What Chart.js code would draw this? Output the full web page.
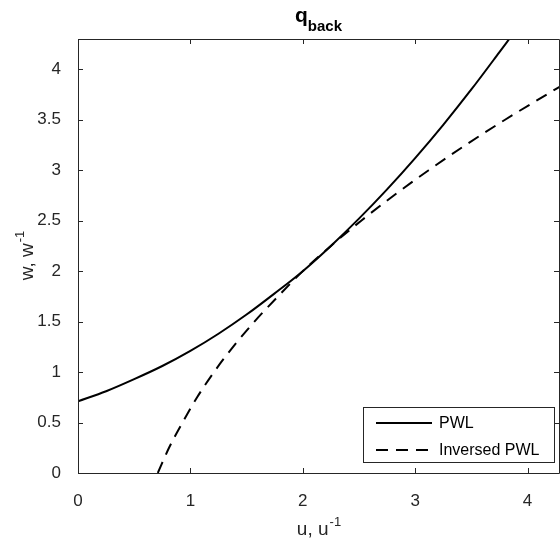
<!DOCTYPE html>
<html>
<head>
<meta charset="utf-8">
<script src="https://cdn.jsdelivr.net/npm/chart.js@4"></script>
<style>
  body { margin: 0; background: #fff; }
  canvas { display: block; }
</style>
</head>
<body>
<canvas id="chart" width="560" height="544"></canvas>
<script>
// nilai
const pwlU = [0, 0.25, 0.5, 0.75, 1, 1.25, 1.5, 1.75, 2, 2.25, 2.5, 2.75, 3, 3.25, 3.5, 3.75, 3.85];
const pwlW = [0.71, 0.81, 0.93, 1.06, 1.21, 1.38, 1.57, 1.78, 2.0, 2.25, 2.52, 2.81, 3.12, 3.45, 3.80, 4.17, 4.32];

const invU = [0.71, 0.81, 0.93, 1.06, 1.21, 1.38, 1.57, 1.78, 2.0, 2.25, 2.52, 2.81, 3.12, 3.45, 3.80, 4.17, 4.32];
const invW = [0, 0.25, 0.5, 0.75, 1, 1.25, 1.5, 1.75, 2, 2.25, 2.5, 2.75, 3, 3.25, 3.5, 3.75, 3.85];

const xTicks = [0, 1, 2, 3, 4];
const yTicks = [0, 0.5, 1, 1.5, 2, 2.5, 3, 3.5, 4];

const seriesNames = ["PWL", "Inversed PWL"];

const axisColor = "#262626";
const font = "'Liberation Sans', Arial, Helvetica, sans-serif";

function toPoints(xs, ys) {
  return xs.map((x, i) => ({ x: x, y: ys[i] }));
}

// plugin untuk judul, label sumbu, tick ke dalam, kotak dan legenda
const decorPlugin = {
  id: "decor",
  afterDraw(chart) {
    const ctx = chart.ctx;
    const area = chart.chartArea;
    const xs = chart.scales.x;
    const ys = chart.scales.y;
    ctx.save();

    // kotak sumbu
    ctx.strokeStyle = axisColor;
    ctx.lineWidth = 1;
    ctx.beginPath();
    ctx.moveTo(area.left + 0.5, area.bottom + 0.5);
    ctx.lineTo(area.left + 0.5, area.top + 0.5);
    ctx.lineTo(area.right + 0.5, area.top + 0.5);
    ctx.lineTo(area.right + 0.5, area.bottom + 0.5);
    ctx.lineTo(area.left + 0.5, area.bottom + 0.5);
    ctx.stroke();

    // tick ke dalam
    const len = 5;
    ctx.beginPath();
    xTicks.forEach(v => {
      const px = Math.round(xs.getPixelForValue(v)) + 0.5;
      ctx.moveTo(px, area.bottom);
      ctx.lineTo(px, area.bottom - len);
      ctx.moveTo(px, area.top);
      ctx.lineTo(px, area.top + len);
    });
    yTicks.forEach(v => {
      const py = Math.round(ys.getPixelForValue(v)) + 0.5;
      ctx.moveTo(area.left, py);
      ctx.lineTo(area.left + len, py);
      ctx.moveTo(area.right, py);
      ctx.lineTo(area.right - len, py);
    });
    ctx.stroke();

    // judul q_back
    const cx = (area.left + area.right) / 2;
    ctx.fillStyle = "#000";
    ctx.textBaseline = "alphabetic";
    ctx.font = "bold 21px " + font;
    const wq = ctx.measureText("q").width;
    ctx.font = "bold 15px " + font;
    const wb = ctx.measureText("back").width;
    let tx = cx - (wq + wb) / 2;
    ctx.font = "bold 21px " + font;
    ctx.textAlign = "left";
    ctx.fillText("q", tx, 22);
    ctx.font = "bold 15px " + font;
    ctx.fillText("back", tx + wq, 31);

    // label sumbu x
    ctx.fillStyle = axisColor;
    drawSup(ctx, "u, u", "-1", cx, 535, 19);

    // label sumbu y (diputar)
    ctx.save();
    ctx.translate(33, (area.top + area.bottom) / 2);
    ctx.rotate(-Math.PI / 2);
    drawSup(ctx, "w, w", "-1", 0, 0, 19);
    ctx.restore();

    // legenda
    const lx = 363, ly = 407, lw = 191, lh = 55;
    ctx.fillStyle = "#fff";
    ctx.fillRect(lx, ly, lw, lh);
    ctx.strokeStyle = axisColor;
    ctx.strokeRect(lx + 0.5, ly + 0.5, lw, lh);
    const rows = [423, 450];
    chart.data.datasets.forEach((ds, i) => {
      ctx.strokeStyle = "#000";
      ctx.lineWidth = 2;
      ctx.setLineDash(ds.borderDash || []);
      ctx.beginPath();
      ctx.moveTo(376, rows[i]);
      ctx.lineTo(432, rows[i]);
      ctx.stroke();
      ctx.setLineDash([]);
      ctx.fillStyle = "#000";
      ctx.font = "16px " + font;
      ctx.textAlign = "left";
      ctx.textBaseline = "middle";
      ctx.fillText(ds.label, 439, rows[i] + 1);
    });

    ctx.restore();
  }
};

function drawSup(ctx, base, sup, cx, baseline, size) {
  ctx.font = size + "px " + font;
  const wBase = ctx.measureText(base).width;
  ctx.font = Math.round(size * 0.7) + "px " + font;
  const wSup = ctx.measureText(sup).width;
  let x = cx - (wBase + wSup) / 2;
  ctx.textAlign = "left";
  ctx.textBaseline = "alphabetic";
  ctx.font = size + "px " + font;
  ctx.fillText(base, x, baseline);
  ctx.font = Math.round(size * 0.7) + "px " + font;
  ctx.fillText(sup, x + wBase + 1, baseline - size * 0.45);
}

new Chart(document.getElementById("chart"), {
  type: "line",
  data: {
    datasets: [
      {
        label: seriesNames[0],
        data: toPoints(pwlU, pwlW),
        borderColor: "#000",
        borderWidth: 2,
        pointRadius: 0,
        cubicInterpolationMode: "monotone",
        fill: false,
      },
      {
        label: seriesNames[1],
        data: toPoints(invU, invW),
        borderColor: "#000",
        borderWidth: 2,
        borderDash: [12, 8],
        pointRadius: 0,
        cubicInterpolationMode: "monotone",
        fill: false,
      },
    ],
  },
  options: {
    responsive: false,
    animation: false,
    layout: { padding: { top: 39, right: 1, left: 0, bottom: 0 } },
    plugins: {
      legend: { display: false },
      title: { display: false },
      tooltip: { enabled: false },
    },
    scales: {
      x: {
        type: "linear",
        min: 0,
        max: 4.28,
        grid: { display: false },
        border: { display: false },
        afterBuildTicks: (scale) => { scale.ticks = xTicks.map(v => ({ value: v })); },
        afterFit: (scale) => { scale.height = 71; },
        ticks: {
          color: axisColor,
          font: { family: font, size: 17 },
          padding: 10,
          maxRotation: 0,
          callback: (v) => String(v),
        },
      },
      y: {
        type: "linear",
        min: 0,
        max: 4.3,
        grid: { display: false },
        border: { display: false },
        afterBuildTicks: (scale) => { scale.ticks = yTicks.map(v => ({ value: v })); },
        afterFit: (scale) => { scale.width = 78; },
        ticks: {
          color: axisColor,
          font: { family: font, size: 17 },
          padding: 9,
          callback: (v) => String(v),
        },
      },
    },
  },
  plugins: [decorPlugin],
});
</script>
</body>
</html>
